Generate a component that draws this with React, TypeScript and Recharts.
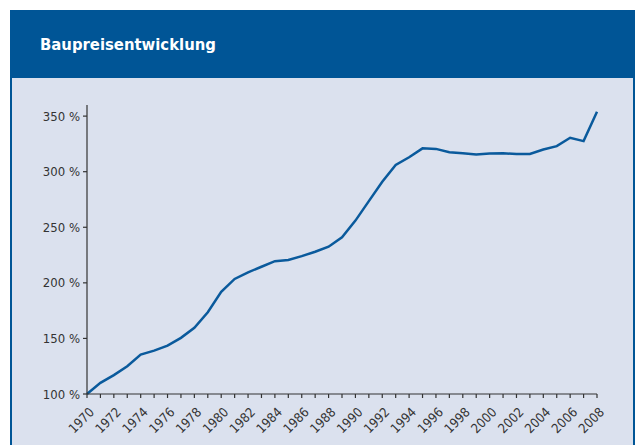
import { LineChart, Line, XAxis, YAxis } from "recharts";

const years = [
  1970, 1971, 1972, 1973, 1974, 1975, 1976, 1977, 1978, 1979,
  1980, 1981, 1982, 1983, 1984, 1985, 1986, 1987, 1988, 1989,
  1990, 1991, 1992, 1993, 1994, 1995, 1996, 1997, 1998, 1999,
  2000, 2001, 2002, 2003, 2004, 2005, 2006, 2007, 2008,
];

const baupreis = [
  100, 110, 117, 125, 135.5, 139, 143.5, 150.5, 159.5, 173.5,
  192, 203.5, 209.5, 214.5, 219.5, 220.5, 224, 228, 232.5, 241,
  256, 273.5, 291, 306, 313, 321, 320.5, 317.5, 316.5, 315.5,
  316.3, 316.5, 316, 316, 320, 323, 330.5, 327.5, 354,
];

const yTicks = [100, 150, 200, 250, 300, 350];

const data = years.map((year, i) => ({ year, value: baupreis[i] }));

const FONT = "'Liberation Sans Narrow', 'DejaVu Sans Condensed', 'Liberation Sans', sans-serif";

// rotated year labels, only every second year gets text
const YearTick = (props: any) => {
  const { x, y, payload } = props;
  if (payload.value % 2 !== 0) return null;
  return (
    <text
      x={x + 8}
      y={y + 13}
      textAnchor="end"
      transform={`rotate(-45, ${x + 8}, ${y + 13})`}
      fontSize={13}
      fontFamily={FONT}
      fill="#333"
    >
      {payload.value}
    </text>
  );
};

export default function App() {
  return (
    <div
      style={{
        position: "absolute",
        left: 0,
        top: 0,
        width: 636,
        height: 445,
        background: "#ffffff",
        overflow: "hidden",
      }}
    >
      <div
        style={{
          position: "absolute",
          left: 10,
          top: 10,
          width: 621,
          height: 440,
          background: "#dbe1ee",
          border: "2px solid #005596",
        }}
      />
      <div
        style={{
          position: "absolute",
          left: 10,
          top: 10,
          width: 625,
          height: 68,
          background: "#005596",
        }}
      />
      <div
        style={{
          position: "absolute",
          left: 40,
          top: 34,
          color: "#ffffff",
          fontFamily: FONT,
          fontWeight: "bold",
          fontSize: 16.5,
          lineHeight: "22px",
        }}
      >
        Baupreisentwicklung
      </div>
      <div style={{ position: "absolute", left: 0, top: 0 }}>
        <LineChart
          width={636}
          height={445}
          data={data}
          margin={{ top: 105, right: 39, bottom: 21, left: 27 }}
        >
          <XAxis
            dataKey="year"
            type="number"
            domain={[1970, 2008]}
            ticks={years}
            interval={0}
            height={30}
            tickSize={4}
            tickLine={{ stroke: "#333", strokeWidth: 1.2 }}
            axisLine={{ stroke: "#333", strokeWidth: 1.2 }}
            tick={<YearTick />}
          />
          <YAxis
            type="number"
            domain={[100, 360]}
            ticks={yTicks}
            width={60}
            tickSize={4}
            tickMargin={3}
            tickLine={{ stroke: "#333", strokeWidth: 1.2 }}
            axisLine={{ stroke: "#333", strokeWidth: 1.2 }}
            tick={{ fontSize: 13, fontFamily: FONT, fill: "#333" }}
            tickFormatter={(v: number) => `${v} %`}
          />
          <Line
            type="linear"
            dataKey="value"
            stroke="#0a5a9c"
            strokeWidth={2.5}
            dot={false}
            isAnimationActive={false}
          />
        </LineChart>
      </div>
    </div>
  );
}
